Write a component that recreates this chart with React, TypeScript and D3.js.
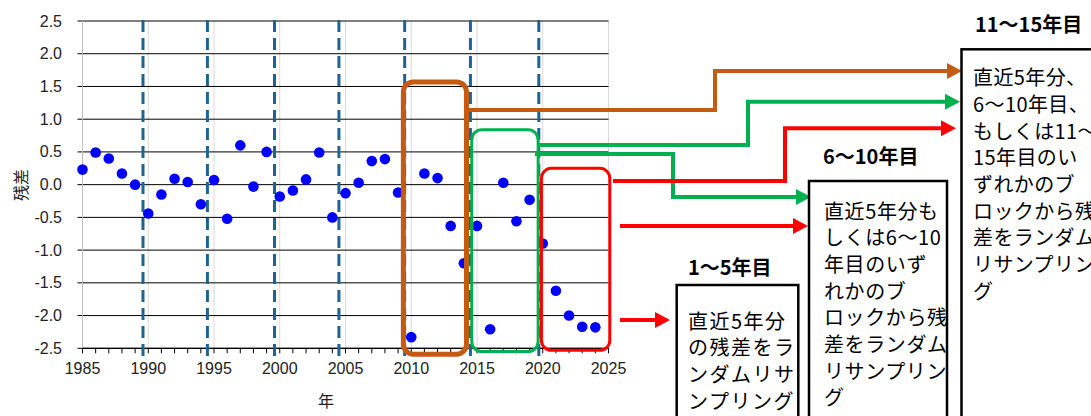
import React from "react";
import * as d3 from "d3";

// ---- data ----
const years = [
  1985, 1986, 1987, 1988, 1989, 1990, 1991, 1992, 1993, 1994,
  1995, 1996, 1997, 1998, 1999, 2000, 2001, 2002, 2003, 2004,
  2005, 2006, 2007, 2008, 2009, 2010, 2011, 2012, 2013, 2014,
  2015, 2016, 2017, 2018, 2019, 2020, 2021, 2022, 2023, 2024,
];
const residuals = [
  0.23, 0.49, 0.4, 0.17, 0.0, -0.44, -0.15, 0.09, 0.04, -0.3,
  0.07, -0.52, 0.6, -0.03, 0.5, -0.18, -0.09, 0.08, 0.49, -0.5,
  -0.13, 0.03, 0.36, 0.39, -0.12, -2.33, 0.17, 0.1, -0.63, -1.2,
  -0.63, -2.21, 0.03, -0.56, -0.23, -0.9, -1.62, -2.0, -2.17, -2.18,
];
const yTicks = [2.5, 2.0, 1.5, 1.0, 0.5, 0.0, -0.5, -1.0, -1.5, -2.0, -2.5];
const xTicks = [1985, 1990, 1995, 2000, 2005, 2010, 2015, 2020, 2025];
const blockBoundaries = [1989.6, 1994.5, 1999.6, 2004.5, 2009.5, 2014.5, 2019.7];

// highlighted blocks: [startYear, endYear, topValue, bottomValue]
const blockRanges = [
  { from: 2009.4, to: 2014.2, top: 1.57, bottom: -2.59, color: "#C55A11", width: 5 },
  { from: 2014.6, to: 2019.65, top: 0.84, bottom: -2.55, color: "#00B050", width: 3 },
  { from: 2019.9, to: 2025.1, top: 0.25, bottom: -2.53, color: "#FF0000", width: 3 },
];

const labelTitles = ["1～5年目", "6～10年目", "11～15年目"];
const box1Lines = ["直近5年分", "の残差をラ", "ンダムリサ", "ンプリング"];
const box2Lines = ["直近5年分も", "しくは6～10", "年目のいず", "れかのブ", "ロックから残", "差をランダム", "リサンプリン", "グ"];
const box3Lines = ["直近5年分、", "6～10年目、", "もしくは11～", "15年目のい", "ずれかのブ", "ロックから残", "差をランダム", "リサンプリン", "グ"];

// ---- layout ----
const W = 1091;
const H = 416;
const X0 = 82.5, X1 = 608.5, YT = 21, YB = 348.3;

const sans = "'Liberation Sans', Arial, 'Noto Sans', sans-serif";
const jp = "'Noto Sans CJK JP', 'Noto Sans', sans-serif";

type Arrow = { color: string; pts: [number, number][] };
const arrows: Arrow[] = [
  { color: "#C55A11", pts: [[467, 110], [715, 110], [715, 71], [962, 71]] },
  { color: "#00B050", pts: [[538, 145], [748, 145], [748, 101.7], [960, 101.7]] },
  { color: "#00B050", pts: [[535, 154], [673, 154], [673, 197], [811, 197]] },
  { color: "#FF0000", pts: [[613, 181], [785, 181], [785, 128.3], [956, 128.3]] },
  { color: "#FF0000", pts: [[620, 226], [808, 226]] },
  { color: "#FF0000", pts: [[620, 320], [670, 320]] },
];

function ArrowShape({ a }: { a: Arrow }) {
  const head = 15;
  const half = 8;
  const pts = a.pts;
  const [tx, ty] = pts[pts.length - 1];
  const lineEnd: [number, number] = [tx - head + 1, ty];
  const linePts = [...pts.slice(0, -1), lineEnd];
  const line = d3.line()(linePts as [number, number][]) || "";
  return (
    <g>
      <path d={line} fill="none" stroke={a.color} strokeWidth={4} strokeLinejoin="miter" />
      <polygon
        points={`${tx},${ty} ${tx - head},${ty - half} ${tx - head},${ty + half}`}
        fill={a.color}
      />
    </g>
  );
}

function TextBox({ x, y, w, label, labelX, labelY, lines, textX, firstY, spacing }: any) {
  const lh = 26.7;
  return (
    <g>
      <text x={labelX} y={labelY} fontFamily={jp} fontSize={20} fontWeight="bold" dominantBaseline="central" fill="#000">
        {label}
      </text>
      <rect x={x} y={y} width={w} height={H - y + 20} fill="#fff" stroke="#000" strokeWidth={2.5} />
      {lines.map((l: string, i: number) => (
        <text key={i} x={textX} y={firstY + i * lh} fontFamily={jp} fontSize={20} dominantBaseline="central" fill="#000" letterSpacing={spacing}>
          {l}
        </text>
      ))}
    </g>
  );
}

export default function App() {
  const x = d3.scaleLinear().domain([1985, 2025]).range([X0, X1]);
  const y = d3.scaleLinear().domain([-2.5, 2.5]).range([YB, YT]);
  const minorYears = d3.range(1985, 2026);

  return (
    <div style={{ position: "absolute", left: 0, top: 0 }}>
      <svg width={W} height={H} style={{ display: "block", background: "#fff" }}>
        {/* vertical grid */}
        {xTicks.slice(1).map((t) => (
          <line key={"vg" + t} x1={x(t)} x2={x(t)} y1={YT} y2={YB} stroke="#d9d9d9" strokeWidth={1} />
        ))}
        {/* horizontal grid */}
        {yTicks.map((t) => (
          <line key={"hg" + t} x1={X0 - 5} x2={X1} y1={y(t)} y2={y(t)} stroke="#000" strokeWidth={1} />
        ))}
        {/* left axis */}
        <line x1={X0} x2={X0} y1={YT} y2={YB} stroke="#bfbfbf" strokeWidth={1} />
        {/* bottom axis + ticks */}
        <line x1={X0} x2={X1} y1={YB} y2={YB} stroke="#000" strokeWidth={1.2} />
        {minorYears.map((t) => (
          <line key={"mt" + t} x1={x(t)} x2={x(t)} y1={YB} y2={YB + 5} stroke="#000" strokeWidth={1} />
        ))}
        {/* y tick labels */}
        {yTicks.map((t) => (
          <text key={"yl" + t} x={62} y={y(t)} textAnchor="end" dominantBaseline="central" fontFamily={sans} fontSize={16} fill="#222">
            {t.toFixed(1)}
          </text>
        ))}
        {/* x tick labels */}
        {xTicks.map((t) => (
          <text key={"xl" + t} x={x(t)} y={373.5} textAnchor="middle" fontFamily={sans} fontSize={16} fill="#222">
            {t}
          </text>
        ))}
        {/* axis titles */}
        <text x={20} y={185} transform="rotate(-90 20 185)" textAnchor="middle" dominantBaseline="central" fontFamily={jp} fontSize={16} fill="#222">
          残差
        </text>
        <text x={326} y={400} textAnchor="middle" dominantBaseline="central" fontFamily={jp} fontSize={16} fill="#222">
          年
        </text>
        {/* dashed block boundaries */}
        {blockBoundaries.map((b) => (
          <line key={"db" + b} x1={x(b)} x2={x(b)} y1={YT - 1} y2={356} stroke="#1F6391" strokeWidth={3} strokeDasharray="12,6" />
        ))}
        {/* points */}
        {years.map((yr, i) => (
          <circle key={"p" + yr} cx={x(yr)} cy={y(residuals[i])} r={5.3} fill="#0000FF" />
        ))}
        {/* highlighted blocks */}
        {blockRanges.map((b, i) => (
          <rect
            key={"br" + i}
            x={x(b.from)}
            y={y(b.top)}
            width={x(b.to) - x(b.from)}
            height={y(b.bottom) - y(b.top)}
            rx={10}
            ry={10}
            fill="none"
            stroke={b.color}
            strokeWidth={b.width}
          />
        ))}
        {/* arrows */}
        {arrows.map((a, i) => (
          <ArrowShape key={"ar" + i} a={a} />
        ))}
        {/* text boxes */}
        <TextBox x={676.7} y={285} w={121.6} label={labelTitles[0]} labelX={688} labelY={266.7} lines={box1Lines} textX={688} firstY={320} spacing={1.5} />
        <TextBox x={809} y={181} w={138} label={labelTitles[1]} labelX={823} labelY={155} lines={box2Lines} textX={824} firstY={210} spacing={0.6} />
        <TextBox x={961.5} y={49.3} w={200} label={labelTitles[2]} labelX={975} labelY={23} lines={box3Lines} textX={973} firstY={76.7} spacing={0.4} />
      </svg>
    </div>
  );
}
